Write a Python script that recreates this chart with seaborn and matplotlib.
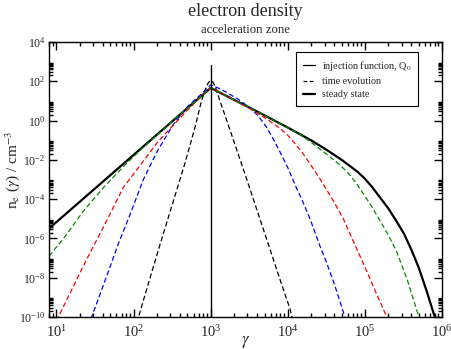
import matplotlib
matplotlib.use("Agg")
import matplotlib.pyplot as plt
from matplotlib.lines import Line2D
from matplotlib.ticker import FixedLocator, LogLocator, NullFormatter, LogFormatterSciNotation
import numpy as np
import seaborn as sns

# injection function Q0: delta at gamma = 1e3
inj_gamma = [1e3, 1e3]
inj_n = [1e-11, 7.0e2]

# steady state
ss_gamma = [8.0, 1e3, 2.0e3, 4.0e3, 1e4, 2.0e4, 3.2e4, 5.0e4, 8.0e4, 1.0e5, 1.25e5, 1.6e5,
            2.0e5, 2.5e5, 3.2e5, 4.0e5, 5.0e5, 6.3e5, 8.0e5, 9.0e5]
ss_n = [3.2e-6, 46, 11.5, 2.9, 0.44, 0.1, 0.032, 0.01, 2.5e-3, 1.1e-3, 4.0e-4, 1.1e-4,
        3.5e-5, 8.9e-6, 1.8e-6, 2.7e-7, 3.2e-8, 2.2e-9, 1.1e-10, 2.5e-11]

# time evolution, earliest (black) to latest (green)
t1_gamma = [110, 158, 219, 316, 457, 631, 759, 871, 933, 1000, 1072, 1148, 1318, 1585,
            1995, 2884, 4786, 7943, 10720, 11800]
t1_n = [5e-11, 6.3e-9, 4.5e-7, 5.0e-5, 5.6e-3, 0.5, 10, 50, 85, 112, 89, 52, 10, 1.26,
        0.089, 1.26e-3, 3.2e-6, 7.9e-9, 2.5e-10, 5e-11]

t2_gamma = [28, 35.5, 49.4, 63, 89.8, 134, 200, 327, 501, 724, 891, 1000, 1259, 1585,
            2239, 3236, 4169, 5321, 6607, 7943, 1e4, 13030, 15140, 19410, 26180, 31620,
            40740, 54080, 57540]
t2_n = [8e-11, 1e-9, 3.5e-8, 5e-7, 1.6e-5, 1e-3, 0.025, 0.63, 5.2, 19, 42, 65, 45, 28,
        12.6, 4.5, 1.66, 0.45, 0.1, 0.025, 4.0e-3, 3.5e-4, 1e-4, 1e-5, 4e-7, 6.3e-8,
        4e-9, 1.26e-10, 6.3e-11]

t3_gamma = [10, 15.8, 25.1, 39.8, 73.8, 126, 200, 316, 501, 708, 1000, 1585, 3162, 5012,
            7943, 1e4, 12590, 15850, 19410, 25120, 31620, 39810, 52480, 77620, 1e5,
            128800, 158500, 190500, 208900]
t3_n = [6.3e-11, 2.5e-9, 1e-7, 3.2e-6, 4e-4, 6.3e-3, 0.071, 0.5, 3.5, 13.2, 48, 18.6, 4.2,
        1.41, 0.4, 0.18, 0.063, 0.02, 6.3e-3, 1.4e-3, 3.2e-4, 7.1e-5, 1e-5, 3.2e-7, 3.5e-8,
        3.5e-9, 5.6e-10, 1.1e-10, 5e-11]

t4_gamma = [8.0, 12.6, 22.4, 39.8, 73.5, 126, 316, 1000, 3162, 1e4, 14350, 20000, 35080,
            50120, 63100, 77620, 89130, 104700, 125900, 149600, 199500, 257000, 354800,
            501200, 530900]
t4_n = [1.26e-7, 1.1e-6, 2.5e-5, 3.5e-4, 4.5e-3, 0.035, 0.89, 46, 4.6, 0.44, 0.2, 0.079,
        0.0145, 4.5e-3, 1.8e-3, 6.3e-4, 2.8e-4, 1.1e-4, 3.5e-5, 1.1e-5, 1.6e-6, 2.2e-7,
        7.9e-9, 1e-10, 4.5e-11]

time_series = [(t1_gamma, t1_n, "black"), (t2_gamma, t2_n, "blue"),
               (t3_gamma, t3_n, "red"), (t4_gamma, t4_n, "#008b00")]

y_major = [1e-10, 1e-8, 1e-6, 1e-4, 1e-2, 1e0, 1e2, 1e4]
x_major = [1e1, 1e2, 1e3, 1e4, 1e5, 1e6]

sns.set_style("ticks")
plt.rcParams["font.family"] = ["Liberation Serif", "DejaVu Serif"]
plt.rcParams["mathtext.fontset"] = "stix"

fig = plt.figure(figsize=(4.52, 3.49), dpi=100)
ax = fig.add_axes([49 / 452, 1 - 317 / 349, 393 / 452, 275 / 349])
ax.set_xscale("log")
ax.set_yscale("log")

dash = (0, (4, 2.2))
sns.lineplot(x=ss_gamma, y=ss_n, ax=ax, color="black", lw=1.6, estimator=None, sort=False)
for g, n, c in time_series:
    sns.lineplot(x=g, y=n, ax=ax, color=c, lw=0.9, linestyle=dash, estimator=None, sort=False)
sns.lineplot(x=inj_gamma, y=inj_n, ax=ax, color="black", lw=1.0, estimator=None, sort=False)

ax.set_xlim(8, 1e6)
ax.set_ylim(1e-10, 1e4)

ax.xaxis.set_major_locator(FixedLocator(x_major))
ax.xaxis.set_minor_locator(LogLocator(base=10, subs=np.arange(2, 10)))
ax.xaxis.set_minor_formatter(NullFormatter())
ax.yaxis.set_major_locator(FixedLocator(y_major))
ax.yaxis.set_major_formatter(LogFormatterSciNotation())
ax.yaxis.set_minor_locator(FixedLocator([m * 10.0 ** k for k in range(-10, 4, 2) for m in range(2, 10)]))
ax.yaxis.set_minor_formatter(NullFormatter())

ax.tick_params(which="both", direction="in", top=True, right=True, color="black", width=1.0)
ax.tick_params(which="major", length=5.5)
ax.tick_params(which="minor", length=3)
ax.tick_params(axis="x", labelsize=10.5, pad=5)
ax.tick_params(axis="y", labelsize=8.5, pad=2.5)
for s in ax.spines.values():
    s.set_linewidth(1.0)
    s.set_color("black")

ax.set_xlabel(r"$\gamma$", fontsize=12)
ax.xaxis.set_label_coords(0.5, -0.06)
ax.set_ylabel(r"n$_\mathrm{e}$ ($\gamma$) / cm$^{-3}$", fontsize=11)
ax.yaxis.set_label_coords(-0.092, 0.535)
ax.yaxis.label.set_va("center")

fig.text(245.5 / 452, 1 - 11 / 349, "electron density", ha="center", va="center", fontsize=13)
fig.text(245.5 / 452, 1 - 30 / 349, "acceleration zone", ha="center", va="center", fontsize=9.2)

handles = [Line2D([], [], color="black", lw=0.9),
           Line2D([], [], color="black", lw=0.9, linestyle=(0, (3, 2))),
           Line2D([], [], color="black", lw=1.6)]
labels = [r"injection function, Q$_0$", "time evolution", "steady state"]
leg = ax.legend(handles, labels, loc="upper right", bbox_to_anchor=(0.939, 0.962),
                borderaxespad=0, fontsize=7.3, handlelength=1.2, handletextpad=0.7,
                borderpad=0.65, labelspacing=0.4, frameon=True, fancybox=False, framealpha=1)
leg.get_frame().set_edgecolor("black")
leg.get_frame().set_linewidth(0.8)

fig.savefig("out.png", dpi=100)
